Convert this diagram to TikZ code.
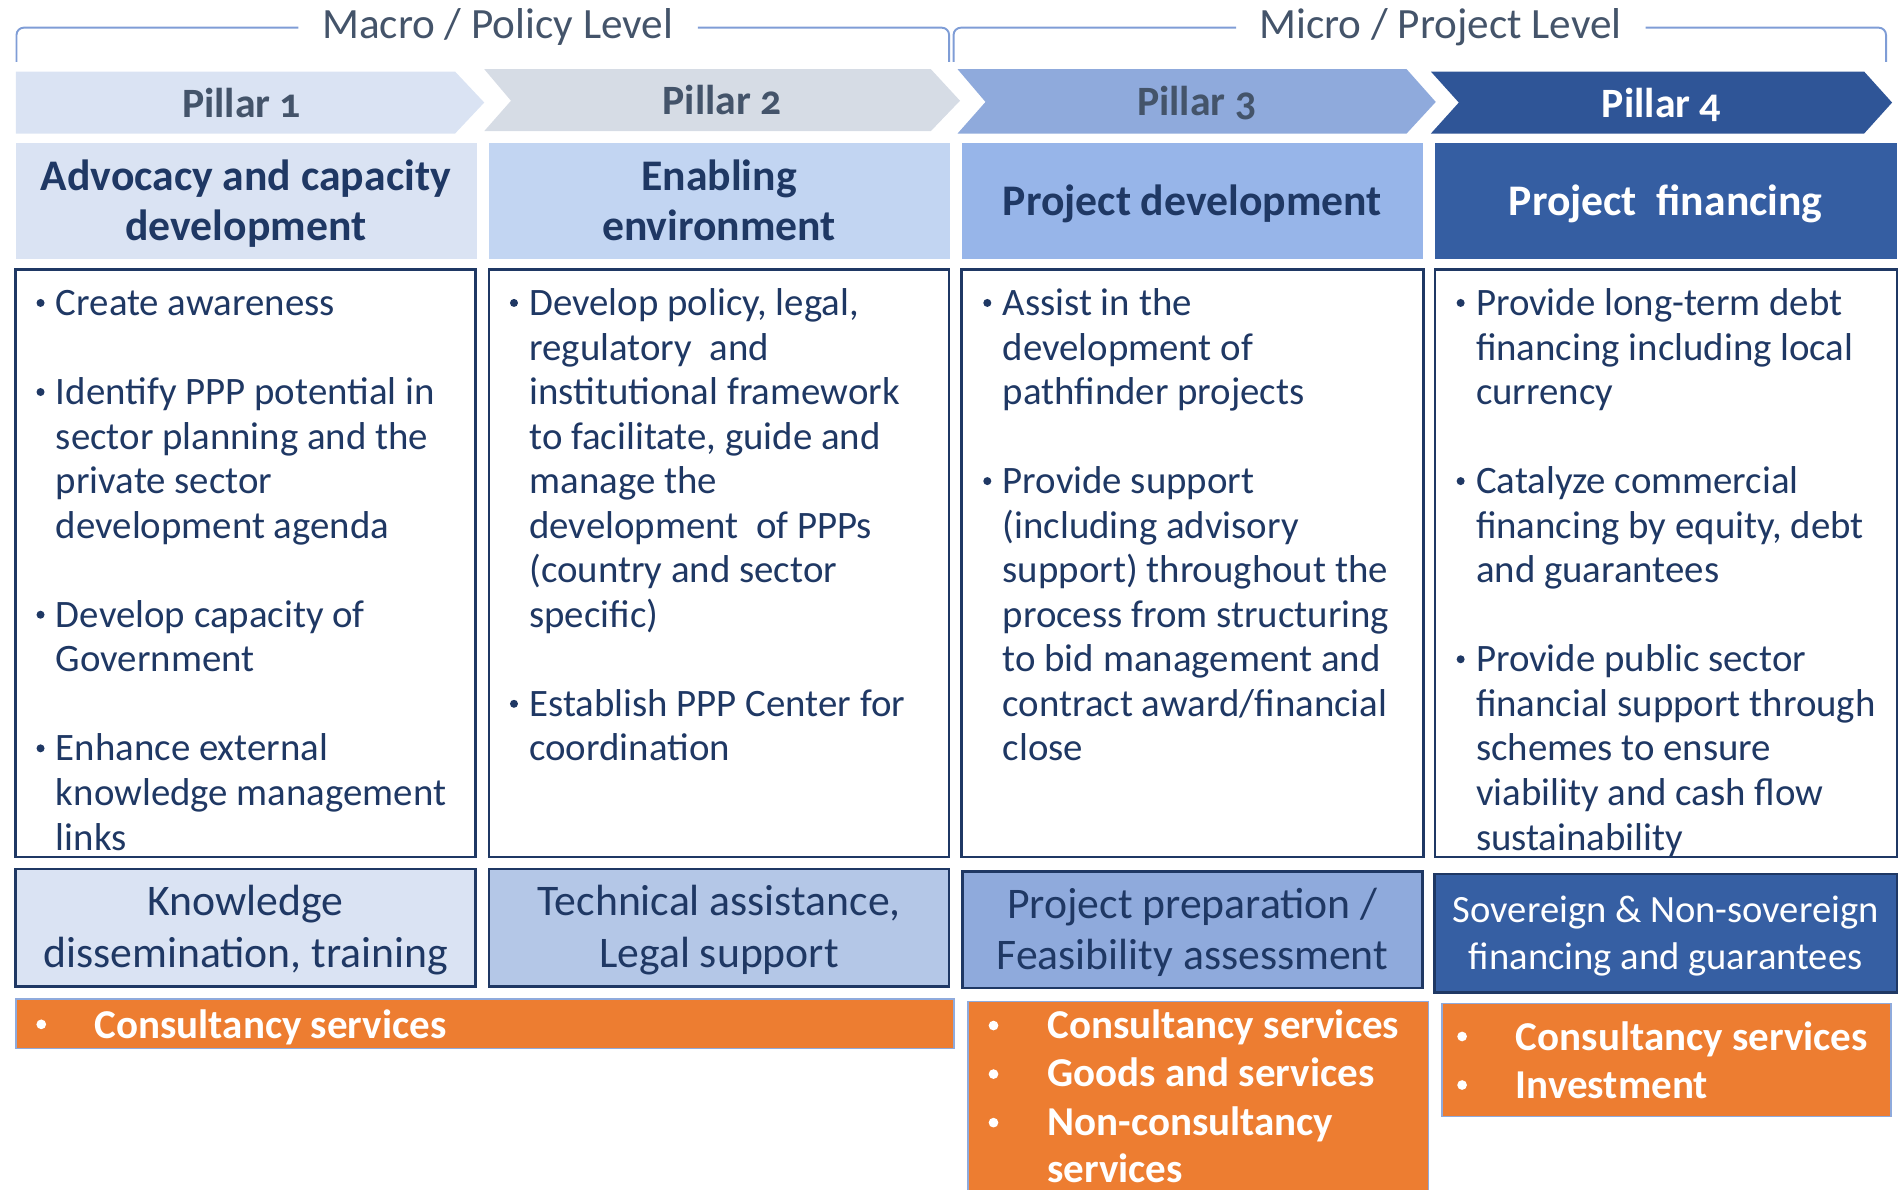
\documentclass[tikz,border=0pt]{standalone}
\usepackage{fontspec}
\setmainfont{Carlito}
\newfontfamily\pillfont[Numbers=OldStyle]{Carlito}
\usetikzlibrary{calc}
\definecolor{navy}{HTML}{1F3864}
\definecolor{slate}{HTML}{44546A}
\definecolor{pa}{HTML}{DAE3F3}
\definecolor{pb}{HTML}{D6DCE5}
\definecolor{pc}{HTML}{8FAADC}
\definecolor{pd}{HTML}{2F5597}
\definecolor{ha}{HTML}{DAE3F3}
\definecolor{hb}{HTML}{C2D5F2}
\definecolor{hc}{HTML}{97B5E9}
\definecolor{hd}{HTML}{355EA2}
\definecolor{ra}{HTML}{DAE3F3}
\definecolor{rb}{HTML}{B4C7E7}
\definecolor{rc}{HTML}{8FAADC}
\definecolor{rd}{HTML}{365FA3}
\definecolor{orng}{HTML}{ED7D31}
\definecolor{oline}{HTML}{8FAADC}
\definecolor{brk}{HTML}{7F9DD6}
\newcommand\tline[4]{\node[bodytext] (#1) at (#2,{260+36.7*#3}) {#4};}
\newcommand\tdot[3]{\node[bdot] (#1) at ({#2-12.7},{249.6+36.7*#3}) {};}
\begin{document}
\begin{tikzpicture}[x=0.5pt,y=-0.5pt,
  every node/.style={inner sep=0pt,outer sep=0pt},
  bodytext/.style={font=\fontsize{16}{18}\selectfont,text=navy,anchor=base west},
  bdot/.style={circle,fill=navy,minimum size=3.3pt},
  odot/.style={circle,fill=white,minimum size=4pt},
  otext/.style={font=\fontsize{16.9}{20}\selectfont\bfseries,text=white,anchor=base west},
  pill/.style={font=\pillfont\fontsize{17.2}{20}\selectfont\bfseries,text=slate,anchor=base},
  head/.style={font=\fontsize{18}{21}\selectfont\bfseries,text=navy,anchor=base},
  rowtext/.style={font=\fontsize{18}{21}\selectfont,text=navy,anchor=base},
  lvl/.style={font=\fontsize{17.8}{21}\selectfont,text=slate,anchor=base},
  wbox/.style={draw=navy,line width=1.1pt,fill=white},
  rbox/.style={draw=navy,line width=1.1pt},
  obox/.style={fill=orng,draw=oline,line width=0.6pt},
  brline/.style={draw=brk,line width=0.8pt,rounded corners=3pt}
]
\useasboundingbox (0,0) rectangle (1568,980);

% level labels and brackets
\node[lvl] (macro) at (410,32) {Macro / Policy Level};
\node[lvl] (micro) at (1187,32) {Micro / Project Level};
\path[brline] (13.6,51) -- (13.6,22.8) -- (245.8,22.8);
\path[brline] (575,22.8) -- (782,22.8) -- (782,51);
\path[brline] (785.7,51) -- (785.7,22.8) -- (1018.5,22.8);
\path[brline] (1356,22.8) -- (1554,22.8) -- (1554,51);

% pillar chevrons
\fill[pa] (13,59) -- (375,59) -- (399,84.5) -- (375,110) -- (13,110) -- cycle;
\fill[pb] (399,57) -- (767,57) -- (791,83) -- (767,108) -- (399,108) -- (421,83) -- cycle;
\fill[pc] (789,57) -- (1159,57) -- (1183,84) -- (1159,110) -- (789,110) -- (812,84) -- cycle;
\fill[pd] (1179,59) -- (1536,59) -- (1559,84.5) -- (1536,110) -- (1179,110) -- (1202,84.5) -- cycle;
\node[pill] (pl1) at (199,96.5) {Pillar 1};
\node[pill] (pl2) at (595,94) {Pillar 2};
\node[pill] (pl3) at (986,95.5) {Pillar 3};
\node[pill,text=white] (pl4) at (1369,96.5) {Pillar 4};

% header boxes
\fill[ha] (13,118) rectangle (393,213);
\fill[hb] (403,118) rectangle (783,213);
\fill[hc] (792.4,117.6) rectangle (1172.6,213);
\fill[hd] (1182,117.6) rectangle (1563,213);
\node[head] (h1a) at (202.5,157) {Advocacy and capacity};
\node[head] (h1b) at (202.5,198.5) {development};
\node[head] (h2a) at (592.5,157) {Enabling};
\node[head] (h2b) at (592.5,198.5) {environment};
\node[head] (h3a) at (982.5,177.5) {Project development};
\node[head,text=white] (h4a) at (1372.5,177.5) {Project\ \ financing};

% bullet boxes
\path[wbox] (13,222) rectangle (392,706);
\path[wbox] (403,222) rectangle (782,706);
\path[wbox] (792.4,222) rectangle (1172.7,706);
\path[wbox] (1182.5,222) rectangle (1563,706);

\tdot{d1a}{46.1}{0} \tline{t1a}{46.1}{0}{Create awareness}
\tdot{d1b}{46.1}{2} \tline{t1b}{46.1}{2}{Identify PPP potential in}
\tline{t1c}{46.1}{3}{sector planning and the}
\tline{t1d}{46.1}{4}{private sector}
\tline{t1e}{46.1}{5}{development agenda}
\tdot{d1f}{46.1}{7} \tline{t1f}{46.1}{7}{Develop capacity of}
\tline{t1g}{46.1}{8}{Government}
\tdot{d1h}{46.1}{10} \tline{t1h}{46.1}{10}{Enhance external}
\tline{t1i}{46.1}{11}{knowledge management}
\tline{t1j}{46.1}{12}{links}

\tdot{d2a}{436.2}{0} \tline{t2a}{436.2}{0}{Develop policy, legal,}
\tline{t2b}{436.2}{1}{regulatory\ \ and}
\tline{t2c}{436.2}{2}{institutional framework}
\tline{t2d}{436.2}{3}{to facilitate, guide and}
\tline{t2e}{436.2}{4}{manage the}
\tline{t2f}{436.2}{5}{development\ \ of PPPs}
\tline{t2g}{436.2}{6}{(country and sector}
\tline{t2h}{436.2}{7}{specific)}
\tdot{d2i}{436.2}{9} \tline{t2i}{436.2}{9}{Establish PPP Center for}
\tline{t2j}{436.2}{10}{coordination}

\tdot{d3a}{826.2}{0} \tline{t3a}{826.2}{0}{Assist in the}
\tline{t3b}{826.2}{1}{development of}
\tline{t3c}{826.2}{2}{pathfinder projects}
\tdot{d3d}{826.2}{4} \tline{t3d}{826.2}{4}{Provide support}
\tline{t3e}{826.2}{5}{(including advisory}
\tline{t3f}{826.2}{6}{support) throughout the}
\tline{t3g}{826.2}{7}{process from structuring}
\tline{t3h}{826.2}{8}{to bid management and}
\tline{t3i}{826.2}{9}{contract award/financial}
\tline{t3j}{826.2}{10}{close}

\tdot{d4a}{1216.2}{0} \tline{t4a}{1216.2}{0}{Provide long-term debt}
\tline{t4b}{1216.2}{1}{financing including local}
\tline{t4c}{1216.2}{2}{currency}
\tdot{d4d}{1216.2}{4} \tline{t4d}{1216.2}{4}{Catalyze commercial}
\tline{t4e}{1216.2}{5}{financing by equity, debt}
\tline{t4f}{1216.2}{6}{and guarantees}
\tdot{d4g}{1216.2}{8} \tline{t4g}{1216.2}{8}{Provide public sector}
\tline{t4h}{1216.2}{9}{financial support through}
\tline{t4i}{1216.2}{10}{schemes to ensure}
\tline{t4j}{1216.2}{11}{viability and cash flow}
\tline{t4k}{1216.2}{12}{sustainability}

% row 4 boxes
\path[rbox,fill=ra] (13,716) rectangle (392,813);
\path[rbox,fill=rb] (403,716) rectangle (782,813);
\path[rbox,fill=rc] (793,718) rectangle (1172,814);
\path[rbox,fill=rd] (1182,720) rectangle (1563,818);
\node[rowtext] (r1a) at (202.5,754.5) {Knowledge};
\node[rowtext] (r1b) at (202.5,797.5) {dissemination, training};
\node[rowtext] (r2a) at (592.5,754.5) {Technical assistance,};
\node[rowtext] (r2b) at (592.5,797.5) {Legal support};
\node[rowtext] (r3a) at (982.5,757) {Project preparation /};
\node[rowtext] (r3b) at (982.5,799) {Feasibility assessment};
\node[rowtext,text=white,font=\fontsize{15.9}{19}\selectfont] (r4a) at (1372.5,760.5) {Sovereign \& Non-sovereign};
\node[rowtext,text=white,font=\fontsize{15.9}{19}\selectfont] (r4b) at (1372.5,798.5) {financing and guarantees};

% orange boxes
\path[obox] (13,823) rectangle (786,864);
\path[obox] (797.6,825) rectangle (1177,995);
\path[obox] (1188,827) rectangle (1558,920);
\node[odot] (o1d) at (34,844) {};
\node[otext] (o1t) at (78,855.5) {Consultancy services};
\node[odot] (o2d1) at (818.6,845) {};
\node[otext] (o2t1) at (863,855.5) {Consultancy services};
\node[odot] (o2d2) at (818.6,885) {};
\node[otext] (o2t2) at (863,895.5) {Goods and services};
\node[odot] (o2d3) at (818.6,925) {};
\node[otext] (o2t3) at (863,935.5) {Non-consultancy};
\node[otext] (o2t4) at (863,974.5) {services};
\node[odot] (o3d1) at (1204.7,854) {};
\node[otext] (o3t1) at (1249,865.5) {Consultancy services};
\node[odot] (o3d2) at (1204.7,894) {};
\node[otext] (o3t2) at (1249,905.5) {Investment};
\end{tikzpicture}
\end{document}
